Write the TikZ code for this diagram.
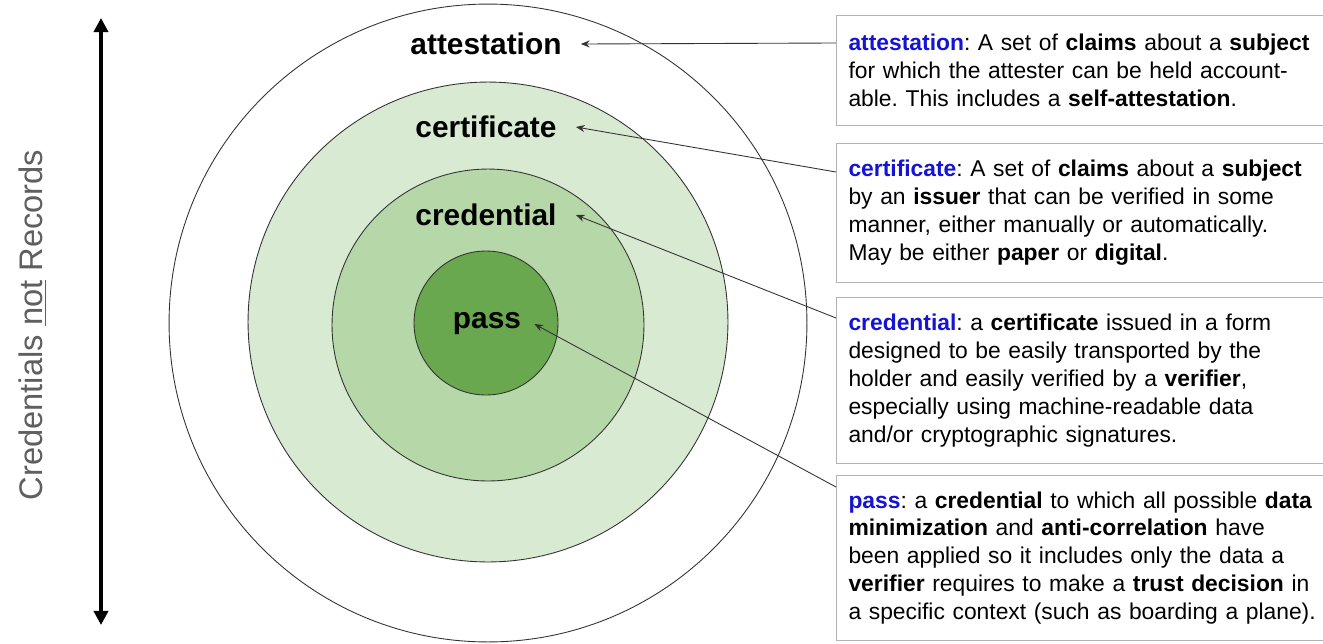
\documentclass[tikz,border=0pt]{standalone}
\usepackage{fontspec}
\setmainfont{Liberation Sans}
\usetikzlibrary{calc,arrows.meta}
\frenchspacing

\definecolor{certgreen}{RGB}{217,234,211}
\definecolor{credgreen}{RGB}{182,215,168}
\definecolor{passgreen}{RGB}{106,168,79}
\definecolor{termblue}{RGB}{20,20,210}
\definecolor{sidegray}{RGB}{95,95,95}
\newcommand{\term}[1]{\textcolor{termblue}{\textbf{#1}}}

\tikzset{
	ring/.style={draw=black!80, line width=0.5pt},
	ringlabel/.style={font=\fontsize{17}{20}\selectfont\bfseries, inner xsep=0.38cm},
	defbox/.style={draw=black!30, line width=0.6pt, fill=white, anchor=north west, align=left,
		text width=10.2cm, inner xsep=0.24cm, font=\fontsize{13}{15.9}\selectfont},
	pointer/.style={draw=black!80, line width=0.5pt, -{Stealth[length=5pt,width=4pt]}}
}

\begin{document}
\begin{tikzpicture}[x=0.02cm, y=-0.02cm]
			%%%%% START %%%%%
			\useasboundingbox[fill=white] (0,0) rectangle (1323,643);
			
			\draw[ring] (488,323) circle (6.38cm);
			\draw[ring, fill=certgreen] (488,322) circle (4.8cm);
			\draw[ring, fill=credgreen] (488,325) circle (3.12cm);
			\draw[ring, fill=passgreen] (486,323) circle (1.44cm);
			
			\node[ringlabel] (attlbl) at (486,44) {attestation};
			\node[ringlabel] (certlbl) at (486,127) {certificate};
			\node[ringlabel] (credlbl) at (486,215) {credential};
			\node[ringlabel, inner xsep=0.26cm] (passlbl) at (487,324) {pass};
			
			\node[defbox, minimum height=2.2cm] (attdef) at (836,15) {%
				\term{attestation}: A set of \textbf{claims} about a \textbf{subject}\\
				for which the attester can be held account-\\
				able. This includes a \textbf{self-attestation}.};
			\node[defbox, minimum height=2.78cm] (certdef) at (836,143) {%
				\term{certificate}: A set of \textbf{claims} about a \textbf{subject}\\
				by an \textbf{issuer} that can be verified in some\\
				manner, either manually or automatically.\\
				May be either \textbf{paper} or \textbf{digital}.};
			\node[defbox, minimum height=3.32cm] (creddef) at (836,297) {%
				\term{credential}: a \textbf{certificate} issued in a form\\
				designed to be easily transported by the\\
				holder and easily verified by a \textbf{verifier},\\
				especially using machine-readable data\\
				and/or cryptographic signatures.};
			\node[defbox, minimum height=3.3cm] (passdef) at (836,475) {%
				\term{pass}: a \textbf{credential} to which all possible \textbf{data}\\
				\textbf{minimization} and \textbf{anti-correlation} have\\
				been applied so it includes only the data a\\
				\textbf{verifier} requires to make a \textbf{trust decision} in\\
				a specific context (such as boarding a plane).};
			
			\coordinate (attin) at ($(attdef.north west)+(0,28)$);
			\coordinate (certin) at ($(certdef.north west)+(0,29)$);
			\coordinate (credin) at ($(creddef.north west)+(0,21)$);
			\coordinate (passin) at ($(passdef.north west)+(0,12)$);
			
			\draw[pointer] (attin) -- (attlbl.east);
			\draw[pointer] (certin) -- (certlbl.east);
			\draw[pointer] (credin) -- (credlbl.east);
			\draw[pointer] (passin) -- (passlbl.east);
			
			\coordinate (axtop) at (101,18);
			\coordinate (axbot) at (101,625);
			\draw[line width=2.4pt, {Triangle[length=8pt,width=8pt]}-{Triangle[length=8pt,width=8pt]}] (axtop) -- (axbot);
			\node[rotate=90, text=sidegray, font=\fontsize{18.6}{22}\selectfont] (sidetxt) at (33,325) {Credentials \underline{not} Records};
			%%%%% END %%%%%
\end{tikzpicture}
\end{document}
